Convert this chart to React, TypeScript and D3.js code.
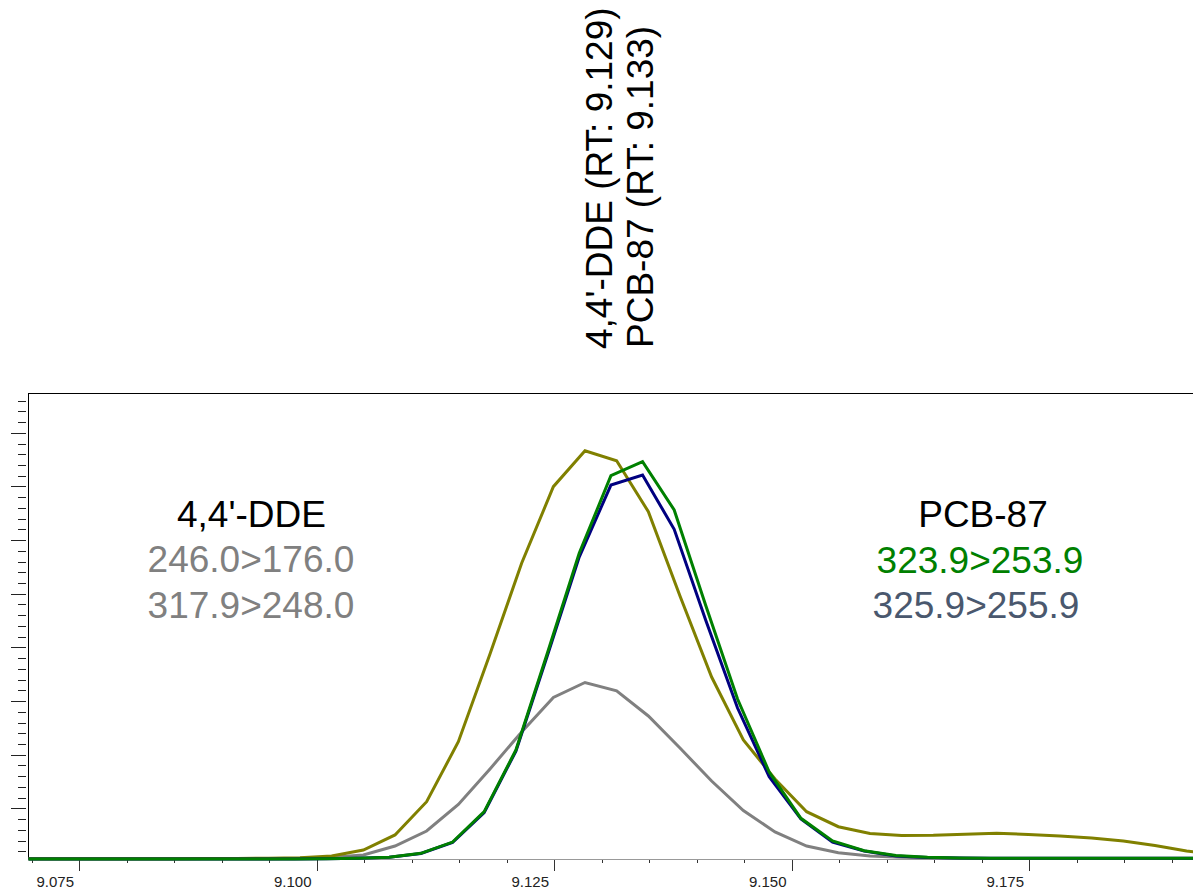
import React from 'react';
import * as d3 from 'd3';

// Retention time grids (min) for the two compounds' MRM scans
const timesDDE = [9.06826, 9.07159, 9.07493, 9.07826, 9.08159, 9.08493, 9.08826, 9.09159, 9.09493, 9.09826, 9.10159, 9.10493, 9.10826, 9.11159, 9.11493, 9.11826, 9.12159, 9.12493, 9.12826, 9.13159, 9.13493, 9.13826, 9.14159, 9.14493, 9.14826, 9.15159, 9.15493, 9.15826, 9.16159, 9.16493, 9.16826, 9.17159, 9.17493, 9.17826, 9.18159, 9.18493, 9.18826, 9.19159, 9.19493];
const timesPCB = [9.06765, 9.07099, 9.07432, 9.07765, 9.08099, 9.08432, 9.08765, 9.09099, 9.09432, 9.09765, 9.10099, 9.10432, 9.10765, 9.11099, 9.11432, 9.11765, 9.12099, 9.12432, 9.12765, 9.13099, 9.13432, 9.13765, 9.14099, 9.14432, 9.14765, 9.15099, 9.15432, 9.15765, 9.16099, 9.16432, 9.16765, 9.17099, 9.17432, 9.17765, 9.18099, 9.18432, 9.18765, 9.19099, 9.19432];

// Intensities (arbitrary units)
const dde246 = [0.30, 0.30, 0.30, 0.30, 0.30, 0.30, 0.32, 0.33, 0.35, 0.39, 0.56, 1.12, 2.52, 5.62, 11.21, 19.39, 27.84, 34.98, 38.33, 37.40, 32.65, 24.79, 17.24, 11.37, 7.74, 4.69, 3.29, 2.66, 2.47, 2.49, 2.59, 2.68, 2.56, 2.42, 2.24, 1.96, 1.54, 1.03, 0.65];
const dde318 = [0.30, 0.30, 0.30, 0.30, 0.30, 0.30, 0.30, 0.30, 0.31, 0.34, 0.44, 0.65, 1.49, 2.89, 5.36, 8.67, 12.12, 15.33, 16.73, 15.96, 13.61, 10.62, 7.55, 4.80, 2.80, 1.49, 0.87, 0.56, 0.44, 0.37, 0.33, 0.33, 0.33, 0.33, 0.33, 0.33, 0.33, 0.33, 0.33];
const pcb324 = [0.29, 0.29, 0.29, 0.29, 0.29, 0.29, 0.29, 0.29, 0.29, 0.29, 0.31, 0.35, 0.44, 0.81, 1.86, 4.69, 10.44, 19.52, 28.77, 36.00, 37.31, 32.81, 23.86, 15.19, 8.39, 4.07, 1.96, 1.05, 0.61, 0.44, 0.37, 0.34, 0.34, 0.34, 0.34, 0.34, 0.34, 0.34, 0.34];
const pcb326 = [0.29, 0.29, 0.29, 0.29, 0.29, 0.29, 0.29, 0.29, 0.29, 0.29, 0.31, 0.35, 0.44, 0.79, 1.82, 4.61, 10.34, 19.29, 28.42, 35.13, 36.07, 31.01, 22.49, 14.35, 7.95, 4.01, 1.86, 1.03, 0.56, 0.42, 0.37, 0.34, 0.34, 0.34, 0.34, 0.34, 0.34, 0.34, 0.34];

const xTickLabels = [9.075, 9.1, 9.125, 9.15, 9.175];

const FONT = 'Liberation Sans, Arial, Helvetica, sans-serif';

export default function App() {
  const W = 1193, H = 892;
  const left = 28.5, right = 1200, top = 393, bottom = 859;
  const x = d3.scaleLinear().domain([9.06968, 9.193]).range([left, right]);
  const y = d3.scaleLinear().domain([0.28, 43.71]).range([bottom, top]);

  const mk = (ts: number[], vs: number[]) =>
    d3.line<number>().x((_, i) => x(ts[i])).y((v) => y(v))(vs) || '';

  const series = [
    { d: mk(timesDDE, dde318), color: '#808080' },
    { d: mk(timesDDE, dde246), color: '#808000' },
    { d: mk(timesPCB, pcb326), color: '#000080' },
    { d: mk(timesPCB, pcb324), color: '#008000' },
  ];

  const xTicks = d3.range(0, 25).map((i) => (9070 + 5 * i) / 1000);
  const yTicks = d3.range(1, 44);

  return (
    <svg width={W} height={H} style={{ position: 'absolute', left: 0, top: 0, display: 'block', background: '#fff' }}>
      <defs>
        <clipPath id="plotClip">
          <rect x={left} y={top - 3} width={W - left} height={bottom - top + 6} />
        </clipPath>
      </defs>
      <rect x={0} y={0} width={W} height={H} fill="#fff" />

      {/* title */}
      <text transform={`translate(612,349) rotate(-90)`} fontFamily={FONT} fontSize={37} fill="#000">4,4'-DDE (RT: 9.129)</text>
      <text transform={`translate(653,348) rotate(-90)`} fontFamily={FONT} fontSize={37} fill="#000">PCB-87 (RT: 9.133)</text>

      {/* y ticks */}
      {yTicks.map((k) => {
        const py = Math.round(y(k)) + 0.5;
        const major = k % 5 === 0;
        return <line key={'y' + k} x1={major ? 11 : 18} x2={26} y1={py} y2={py} stroke="#222" strokeWidth={1} />;
      })}

      {/* x ticks */}
      {xTicks.map((v, i) => {
        const px = Math.round(x(v)) + 0.5;
        const major = i % 5 === 1;
        return <line key={'x' + i} x1={px} x2={px} y1={bottom} y2={major ? 871 : 863} stroke="#333" strokeWidth={1} />;
      })}
      {xTickLabels.map((v) => (
        <text key={'l' + v} x={x(v) - 5} y={887} textAnchor="end" fontFamily={FONT} fontSize={15} fill="#222">
          {v.toFixed(3)}
        </text>
      ))}

      {/* frame */}
      <line x1={left} x2={W} y1={top + 0.5} y2={top + 0.5} stroke="#000" strokeWidth={1} />
      <line x1={left} x2={left} y1={top} y2={bottom} stroke="#000" strokeWidth={1} />
      <line x1={left} x2={W} y1={bottom + 0.5} y2={bottom + 0.5} stroke="#999" strokeWidth={1} />

      {/* traces */}
      <g clipPath="url(#plotClip)">
        {series.map((s, i) => (
          <path key={i} d={s.d} fill="none" stroke={s.color} strokeWidth={3} strokeLinejoin="miter" />
        ))}
      </g>

      {/* labels */}
      <g fontFamily={FONT} fontSize={37} textAnchor="middle">
        <text x={251.5} y={527} fill="#000">4,4'-DDE</text>
        <text x={251} y={572} fill="#808080">246.0&gt;176.0</text>
        <text x={251} y={618} fill="#808080">317.9&gt;248.0</text>
        <text x={983} y={527} fill="#000">PCB-87</text>
        <text x={980} y={573} fill="#008000">323.9&gt;253.9</text>
        <text x={976} y={618} fill="#4a586e">325.9&gt;255.9</text>
      </g>
    </svg>
  );
}
